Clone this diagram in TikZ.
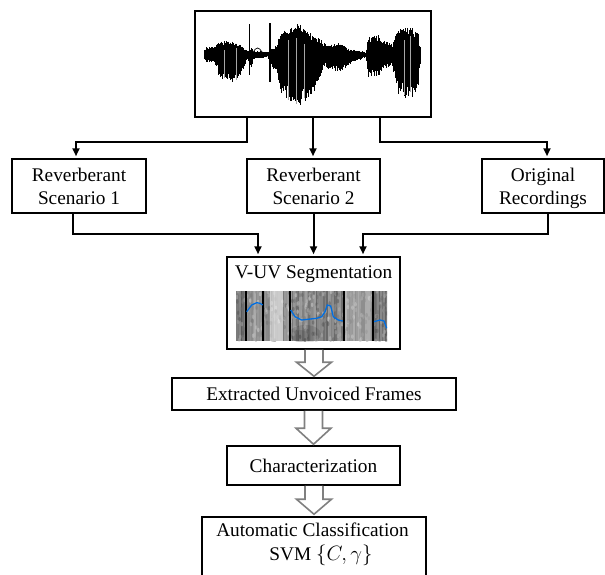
\documentclass[tikz,border=0pt]{standalone}
\usepackage{fontspec}
\setmainfont{Liberation Serif}
\usetikzlibrary{arrows.meta,calc}
\definecolor{pitchblue}{RGB}{0,110,225}
\definecolor{hollowgray}{RGB}{128,128,128}
\begin{document}
\begin{tikzpicture}[x=1pt,y=-1pt,
  box/.style={draw,line width=1.5pt,inner sep=0pt,text depth=0pt,align=center},
  conn/.style={line width=2pt,-{Triangle[length=8pt,width=7pt]},shorten >=2pt},
  hollow/.style={draw=hollowgray,fill=white,line width=1.6pt,line join=miter},
  every node/.style={font=\fontsize{19.3}{23}\selectfont}]
\useasboundingbox (0,0) rectangle (605,574);
\clip (0,0) rectangle (605,574);

% ---------- top waveform box ----------
\node[box,minimum width=236pt,minimum height=106pt] (top) at (313,64) {};
\pgfmathsetseed{3}
\foreach \wx/\wu/\wd [remember=\wx as \lx (initially 204),
                      remember=\wu as \lu (initially 3),
                      remember=\wd as \ld (initially 3)] in
  {206/8/7,214/8/7,216/10/12,220/14/24,232/14/27,240/11/22,245/6/10,248/4/4,
   251/8/15,254/4/4,268/3/2,271/6/10,277/10/20,280/22/42,290/28/50,300/32/53,
   310/22/45,318/18/30,324/12/12,328/10/15,340/12/17,350/6/9,362/4/4,366/2/2,
   368/18/22,378/20/23,383/14/14,393/12/12,395/20/30,400/27/42,412/28/45,
   418/22/35,420/8/10}
{
  \pgfmathtruncatemacro\wn{max(1,(\wx-\lx)/0.6)}
  \foreach \wk in {0,...,\wn}{
    \pgfmathsetmacro\wt{\wk/\wn}
    \pgfmathsetmacro\wxx{\lx+(\wx-\lx)*\wt}
    \pgfmathsetmacro\wya{55-(\lu+(\wu-\lu)*\wt)*(0.68+0.32*rnd)}
    \pgfmathsetmacro\wyb{55+(\ld+(\wd-\ld)*\wt)*(0.62+0.38*rnd)}
    \draw[line width=0.8pt] (\wxx,\wya) -- (\wxx,\wyb);
  }
}
\draw[line width=1.2pt] (249.5,24) -- (249.5,75);
\draw[line width=1.2pt] (270,23) -- (270,82);
\draw[line width=0.7pt] (253,53) .. controls (256,46) and (259,47) .. (262,52) -- (268,56);
\foreach \gx/\ga/\gb in {224/50/78,236/48/80,288/40/100,296/38/104,304/44/98,404/40/95,410/36/92}
  \draw[gray!70,line width=0.6pt] (\gx,\ga) -- (\gx,\gb);

% ---------- scenario boxes ----------
\node[box,minimum width=134pt,minimum height=54pt] (rs1) at (79,186) {Reverberant\\Scenario 1};
\node[box,minimum width=133pt,minimum height=54pt] (rs2) at (313.5,186) {Reverberant\\Scenario 2};
\node[box,minimum width=122pt,minimum height=54pt] (orig) at (543,186) {Original\\Recordings};

% ---------- V-UV box ----------
\node[box,minimum width=173pt,minimum height=92pt] (vuv) at (313.5,303) {};
\node[anchor=base] (vuvt) at (313.5,278) {V-UV Segmentation};
\begin{scope}
  \clip (236,291) rectangle (387,341);
  \fill[black!50] (236,291) rectangle (387,341);
  \pgfmathsetseed{42}
  \foreach \sx in {236,237.5,...,386}{
    \pgfmathtruncatemacro\sg{38+22*rnd}
    \fill[black!\sg] (\sx,291) rectangle (\sx+1.6,341);
  }
  \foreach \si in {1,...,320}{
    \pgfmathsetmacro\spx{236+151*rnd}
    \pgfmathsetmacro\spy{291+50*rnd}
    \pgfmathtruncatemacro\sg{15+55*rnd}
    \fill[black!\sg,opacity=0.45] (\spx,\spy) ellipse (1.3 and 2.2);
  }
  \fill[white,opacity=0.55] (270,291) rectangle (283,341);
  \fill[white,opacity=0.25] (344,291) rectangle (372,341);
  \fill[white,opacity=0.2] (246,291) rectangle (263,341);
  \fill[black,opacity=0.15] (236,291) rectangle (246,341);
  \fill[black,opacity=0.12] (373,291) rectangle (387,341);
  \fill[black,opacity=0.12] (305,334) ellipse (16 and 9);
  \fill[black,opacity=0.1] (300,336) ellipse (9 and 6);
  \foreach \sx in {246,263,290,344,373}
    \draw[line width=1.2pt] (\sx,291) -- (\sx,341);
  \draw[pitchblue,line width=1.3pt] (246.7,311.7) -- (251.7,305) -- (256.7,302.7) -- (260,303.3) -- (262.7,305);
  \draw[pitchblue,line width=1.3pt] (290.7,310) -- (295,316.7) -- (301.7,320) -- (316.7,318.3) -- (321.7,316.7)
     -- (325,311.7) -- (327.3,305) -- (330.7,306) -- (333.3,316.7) -- (338.3,320) -- (342.7,321);
  \draw[pitchblue,line width=1.3pt] (374,321.7) -- (380,320) -- (384,321) -- (386.7,328.3);
\end{scope}

% ---------- lower boxes ----------
\node[box,minimum width=284pt,minimum height=32pt] (ext) at (314,394) {Extracted Unvoiced Frames};
\node[box,minimum width=173pt,minimum height=39pt] (char) at (313.5,465.5) {Characterization};
\node[box,minimum width=224pt,minimum height=70pt] (auto) at (314,552) {};
\node[anchor=base] (auto1) at (312.5,536.7) {Automatic Classification};
\node[anchor=base] (auto2) at (321,560) {SVM $\{C,\gamma\}$};

% ---------- connectors ----------
\draw[conn] ([xshift=-66pt]top.south) -- ++(0,24) -| ([xshift=-3pt]rs1.north);
\draw[conn] (top.south) -- (top.south |- rs2.north);
\draw[conn] ([xshift=67pt]top.south) -- ++(0,24) -| ([xshift=4pt]orig.north);
\draw[conn] ([xshift=-6pt]rs1.south) -- ++(0,20) -| ([xshift=-55.5pt]vuv.north);
\draw[conn] (rs2.south) -- (vuv.north);
\draw[conn] ([xshift=5pt]orig.south) -- ++(0,20) -| ([xshift=49.5pt]vuv.north);

% ---------- hollow arrows ----------
\draw[hollow] ($(ext.north |- vuv.south)+(-9,0)$) -- ($(ext.north)+(-9,-15)$) -- ($(ext.north)+(-17.5,-15)$)
  -- ($(ext.north)+(0,-1)$) -- ($(ext.north)+(17.5,-15)$) -- ($(ext.north)+(9,-15)$) -- ($(ext.north |- vuv.south)+(9,0)$);
\draw[hollow] ($(char.north |- ext.south)+(-9,0)$) -- ($(char.north)+(-9,-17)$) -- ($(char.north)+(-17.5,-17)$)
  -- ($(char.north)+(0,-1)$) -- ($(char.north)+(17.5,-17)$) -- ($(char.north)+(9,-17)$) -- ($(char.north |- ext.south)+(9,0)$);
\draw[hollow] ($(auto.north |- char.south)+(-9,0)$) -- ($(auto.north)+(-9,-17)$) -- ($(auto.north)+(-17.5,-17)$)
  -- ($(auto.north)+(0,-2)$) -- ($(auto.north)+(17.5,-17)$) -- ($(auto.north)+(9,-17)$) -- ($(auto.north |- char.south)+(9,0)$);
\end{tikzpicture}
\end{document}
